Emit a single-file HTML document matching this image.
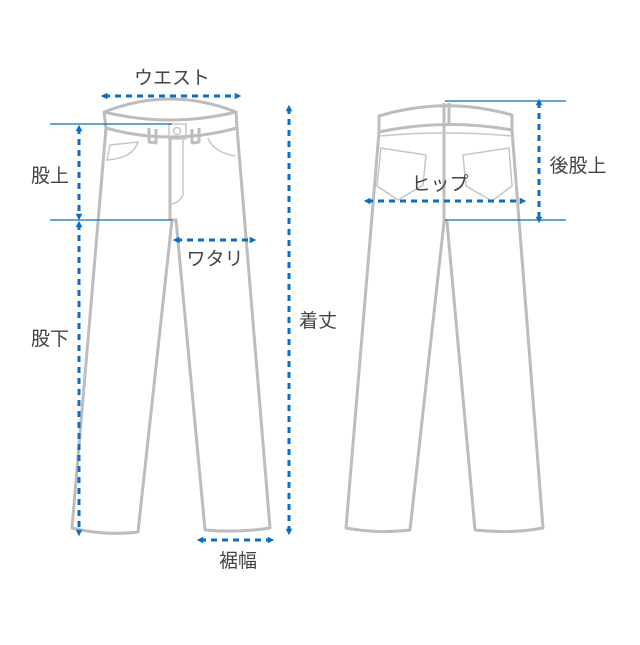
<!DOCTYPE html>
<html><head><meta charset="utf-8"><style>
html,body{margin:0;padding:0;background:#fff;}
svg text{font-family:"Liberation Sans","Noto Sans CJK JP",sans-serif;font-size:19px;fill:#444;text-anchor:middle;}
</style></head><body>
<svg width="640" height="640" viewBox="0 0 640 640" xmlns="http://www.w3.org/2000/svg">
<defs>
<marker id="a" viewBox="0 0 6 6" refX="3" refY="3" markerWidth="2.2" markerHeight="2.2" orient="auto-start-reverse"><path d="M0,0 L6,3 L0,6 z" fill="#0a6fc2"/></marker>
</defs>
<g fill="none" stroke="#bdbdbd" stroke-width="3" stroke-linejoin="round">
<path d="M104,112 Q170,86 236,112 Q170,128 104,112 Z"/>
<path d="M104,112 L106,128 Q170,146 237,128 L236,112"/>
<path d="M106,128 L72,528 Q105,536 138,532 L172,220 L176,220 L205,530 Q238,533 270,528 L237,128"/>
<path d="M149,128 L149,142 L156,143 L156,129 M192,129 L192,143 L199,142 L199,128"/>
<path d="M170,136 L170,220"/>
</g>
<g fill="none" stroke="#c6c6c6" stroke-width="1.5">
<rect x="169" y="124" width="17" height="15"/>
<circle cx="177" cy="131" r="3.5"/>
<path d="M110,145 L138,142 Q133,158 107,160 Z"/>
<path d="M208,138 Q213,152 235,156"/>
<path d="M183,140 L183,195 Q180,202 172,204"/>
</g>
<g fill="none" stroke="#bdbdbd" stroke-width="3" stroke-linejoin="round">
<path d="M379,116 Q445,96 512,115 L512,130 Q445,118 379,132 Z"/>
<path d="M379,132 L346,528 Q378,534 410,530 L444,222 L447,222 L475,530 Q510,534 543,528 L512,130"/>
<path d="M444,103 L444,222 M449,103 L449,124"/>
</g>
<g fill="none" stroke="#c6c6c6" stroke-width="1.5">
<path d="M379,136 Q445,130 512,136"/>
<path d="M381,148 L426,155 L423,185 L398,200 L377,186 Z"/>
<path d="M463,155 L509,148 L512,186 L492,201 L466,186 Z"/>
</g>
<g stroke="#0a6fc2" stroke-width="1.3">
<line x1="50" y1="124" x2="172" y2="124"/>
<line x1="50" y1="220" x2="172" y2="220"/>
<line x1="445" y1="101" x2="566" y2="101"/>
<line x1="445" y1="220" x2="566" y2="220"/>
</g>
<g stroke="#0a6fc2" stroke-width="3" stroke-dasharray="6,5" fill="none" marker-start="url(#a)" marker-end="url(#a)">
<line x1="104" y1="96" x2="238" y2="96"/>
<line x1="79" y1="128" x2="79" y2="217"/>
<line x1="79" y1="224" x2="79" y2="533"/>
<line x1="176" y1="240" x2="253" y2="240"/>
<line x1="289" y1="108" x2="289" y2="532"/>
<line x1="200" y1="540" x2="271" y2="540"/>
<line x1="367" y1="201" x2="523" y2="201"/>
<line x1="539" y1="102" x2="539" y2="220"/>
</g>
<text x="172" y="84">ウエスト</text>
<text x="50" y="182">股上</text>
<text x="50" y="345">股下</text>
<text x="215" y="265">ワタリ</text>
<text x="318" y="327">着丈</text>
<text x="238" y="567">裾幅</text>
<text x="440" y="190">ヒップ</text>
<text x="578" y="172">後股上</text>
</svg>
</body></html>
